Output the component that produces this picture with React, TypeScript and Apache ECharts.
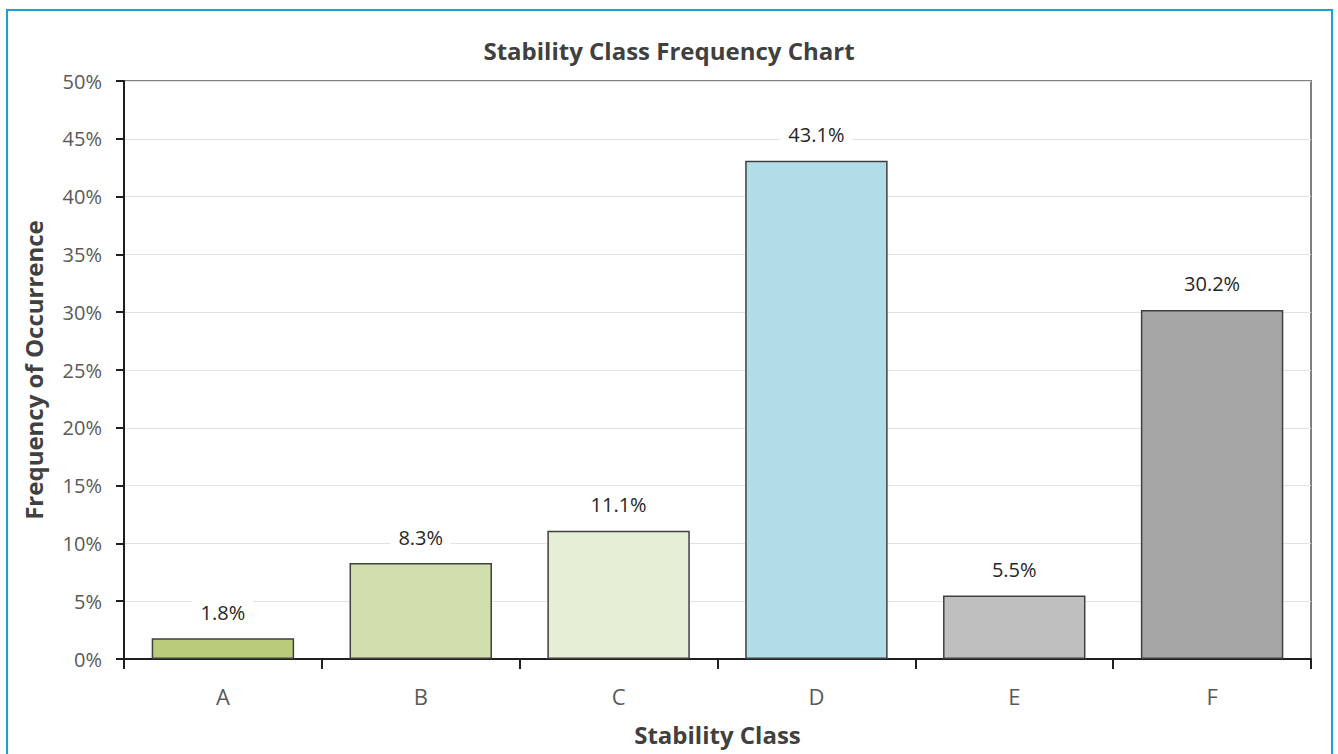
import React, { useEffect, useRef } from "react";
import * as echarts from "echarts";

const categories = ["A", "B", "C", "D", "E", "F"];
const frequencies = [1.8, 8.3, 11.1, 43.1, 5.5, 30.2];
const barColors = ["#B8CC7C", "#D1DFAD", "#E6EED6", "#B1DEE6", "#BFBFBF", "#A6A6A6"];
const titleText = "Stability Class Frequency Chart";
const xAxisName = "Stability Class";
const yAxisName = "Frequency of Occurrence";

const FONT = "'Open Sans', 'Noto Sans', sans-serif";

export default function App() {
  const ref = useRef<HTMLDivElement>(null);
  useEffect(() => {
    document.body.style.margin = "0";
    const chart = echarts.init(ref.current!, null, { renderer: "svg" });
    chart.setOption({
      animation: false,
      backgroundColor: "#ffffff",
      title: {
        text: titleText,
        left: "center",
        top: 33,
        textStyle: { fontFamily: FONT, fontSize: 24, fontWeight: "bold", color: "#404040" },
      },
      graphic: [
        {
          type: "rect",
          shape: { x: 7, y: 10, width: 1325, height: 770 },
          style: { fill: "none", stroke: "#17A2CF", lineWidth: 2 },
          silent: true,
        },
      ],
      grid: {
        left: 124,
        right: 27,
        top: 81,
        bottom: 95,
        show: true,
        borderColor: "#7F7F7F",
        borderWidth: 2,
      },
      xAxis: {
        type: "category",
        data: categories,
        name: xAxisName,
        nameLocation: "middle",
        nameGap: 63,
        nameTextStyle: { fontFamily: FONT, fontSize: 24, fontWeight: "bold", color: "#404040" },
        axisLine: { lineStyle: { color: "#1F1F1F", width: 2 } },
        axisTick: { show: true, length: 10, lineStyle: { color: "#1F1F1F", width: 2 }, alignWithLabel: false },
        axisLabel: { fontFamily: FONT, fontSize: 22, color: "#595959", margin: 26 },
      },
      yAxis: {
        type: "value",
        min: 0,
        max: 50,
        interval: 5,
        name: yAxisName,
        nameLocation: "middle",
        nameGap: 79,
        nameTextStyle: { fontFamily: FONT, fontSize: 24, fontWeight: "bold", color: "#404040" },
        axisLine: { show: true, lineStyle: { color: "#1F1F1F", width: 2 } },
        axisTick: { show: true, length: 8, lineStyle: { color: "#1F1F1F", width: 2 } },
        axisLabel: { fontFamily: FONT, fontSize: 20, color: "#595959", margin: 22, formatter: "{value}%" },
        splitLine: { show: true, lineStyle: { color: "#E3E3E3", width: 1 } },
      },
      series: [
        {
          type: "bar",
          data: frequencies.map((v, i) => ({
            value: v,
            itemStyle: { color: barColors[i] },
          })),
          barWidth: "72%",
          itemStyle: { borderColor: "#404040", borderWidth: 1.5 },
          label: {
            show: true,
            position: "top",
            distance: 13,
            formatter: (p: any) => p.value.toFixed(1) + "%",
            fontFamily: FONT,
            fontSize: 20,
            color: "#262626",
            backgroundColor: "#ffffff",
            padding: [3, 8],
          },
        },
      ],
    });
    return () => chart.dispose();
  }, []);
  return <div ref={ref} style={{ position: "absolute", left: 0, top: 0, width: 1338, height: 754 }} />;
}
